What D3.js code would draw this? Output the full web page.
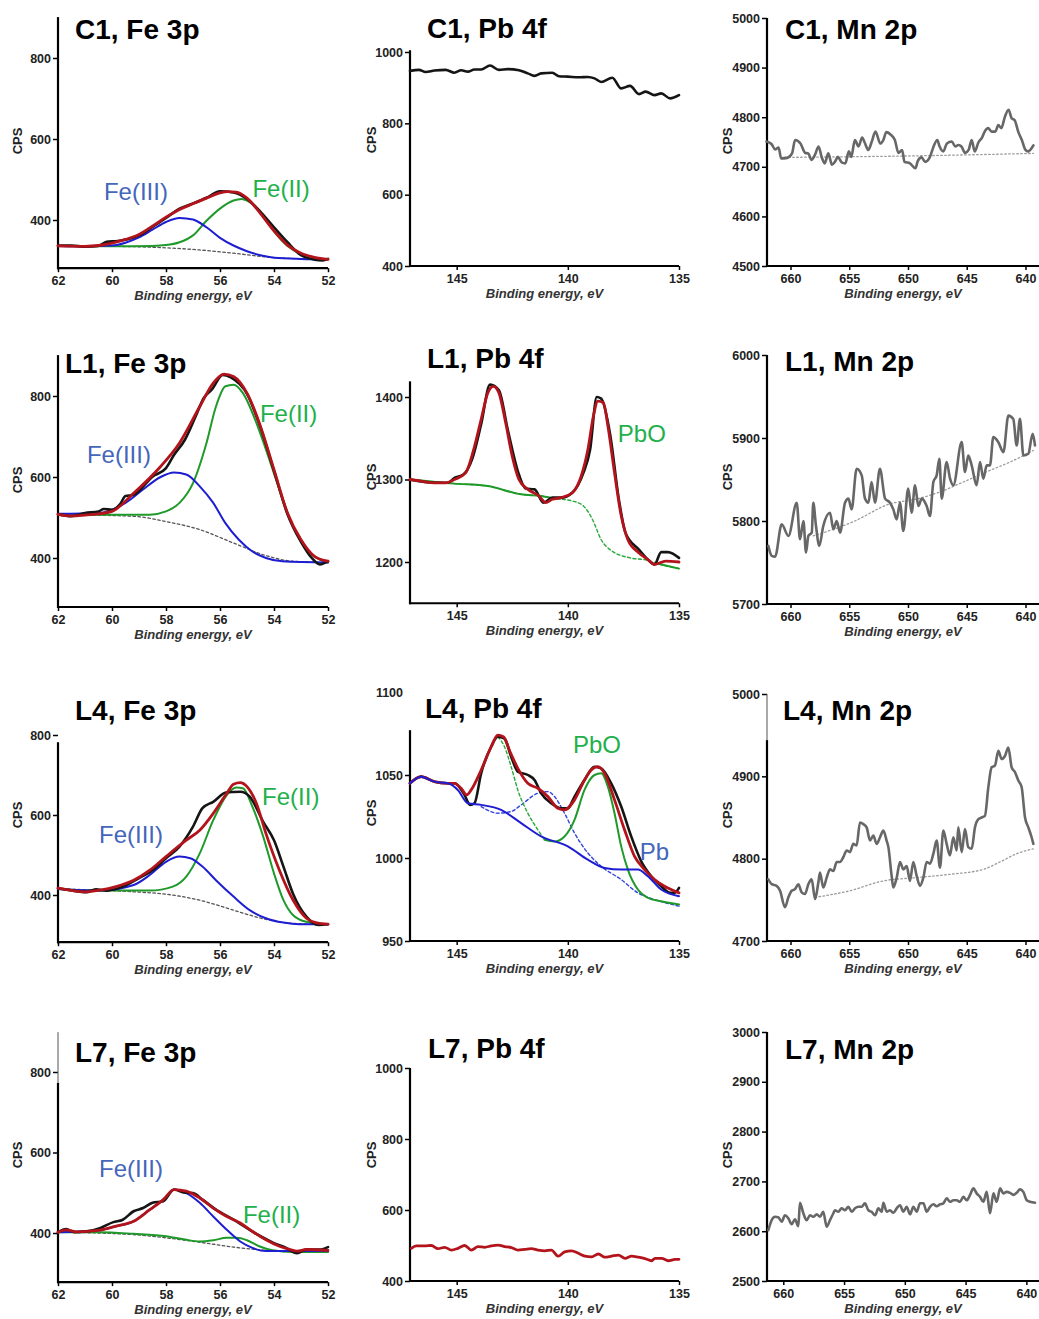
<!DOCTYPE html>
<html>
<head>
<meta charset="utf-8">
<script src="https://cdn.jsdelivr.net/npm/d3@7"></script>
<style>
  body { margin: 0; background: #fff; }
  svg text { font-family: "Liberation Sans", Arial, Helvetica, sans-serif; }
</style>
</head>
<body>
<svg id="chart" width="1039" height="1319"></svg>
<script>
// ---- data: [binding energy (eV), CPS] ----

// C1, Fe 3p
const c1FeBase  = [[62,336],[60,335],[58.6,333],[56.75,326],[55.5,318],[54.3,309],[53,304],[52,303]];
const c1FeBlue  = [[62,336],[61,335],[60,337],[59.5,344],[59,357],[58.5,376],[58,395],[57.5,405],[57,401],[56.5,382],[56,356],[55.5,337],[55,323],[54.5,313],[54,307],[53,304],[52,303]];
const c1FeGreen = [[62,336],[60,335],[58.5,336],[58,338],[57.5,345],[57,362],[56.5,398],[56,428],[55.5,448],[55.2,452],[55,448],[54.5,420],[54,372],[53.5,336],[53,316],[52.5,307],[52,303]];
const c1FeRed   = [[62,336],[61,335],[60.5,337],[60,343],[59.5,352],[59,364],[58.5,385],[58,407],[57.5,426],[57,440],[56.5,454],[56,467],[55.7,470],[55.4,469],[55,454],[54.5,416],[54,373],[53.5,338],[53,318],[52.5,308],[52,303]];
const c1FeBlack = [[62,337],[61.5,337],[61,334],[60.5,336],[60.2,346],[59.8,348],[59.5,351],[59,362],[58.5,383],[58,405],[57.5,428],[57,441],[56.5,455],[56,471],[55.5,468],[55,452],[54.5,420],[54,382],[53.5,345],[53,313],[52.5,302],[52.2,300],[52,304]];

// C1, Pb 4f
const c1Pb = [[147.1,947],[146.7,950],[146.4,944],[146.0,948],[145.5,950],[145.1,942],[144.8,949],[144.5,945],[144.2,951],[143.9,951],[143.5,962],[143.1,950],[142.7,952],[142.2,949],[141.8,940],[141.5,933],[141.2,940],[140.7,942],[140.4,932],[140.0,931],[139.5,929],[139.1,930],[138.8,926],[138.5,916],[138.0,928],[137.6,898],[137.2,905],[136.8,882],[136.5,889],[136.1,879],[135.8,884],[135.4,870],[135.0,879]];

// C1, Mn 2p
const c1Mn = [[662.04,4751],[661.62,4746],[661.31,4735],[661.01,4739],[660.80,4717],[660.28,4718],[659.87,4727],[659.61,4754],[659.15,4747],[658.74,4728],[658.48,4727],[658.22,4714],[657.92,4724],[657.61,4741],[657.35,4720],[657.09,4707],[656.78,4727],[656.47,4704],[656.22,4710],[655.96,4720],[655.65,4709],[655.34,4707],[655.03,4731],[654.83,4720],[654.52,4754],[654.21,4741],[653.90,4759],[653.69,4749],[653.38,4734],[653.08,4751],[652.77,4771],[652.35,4747],[652.10,4754],[651.84,4770],[651.43,4764],[651.12,4754],[650.81,4728],[650.50,4734],[650.30,4710],[649.83,4707],[649.37,4697],[649.16,4712],[648.85,4719],[648.54,4710],[648.13,4720],[647.82,4741],[647.51,4754],[647.31,4741],[647.00,4731],[646.69,4747],[646.28,4751],[645.97,4741],[645.71,4744],[645.45,4741],[645.15,4728],[644.84,4734],[644.58,4754],[644.32,4731],[644.01,4749],[643.70,4759],[643.45,4772],[643.19,4778],[642.88,4771],[642.57,4771],[642.31,4784],[642.06,4778],[641.75,4801],[641.44,4815],[641.18,4798],[640.92,4794],[640.62,4771],[640.31,4754],[640.00,4734],[639.79,4731],[639.33,4743]];
const c1MnBase = [[660.49,4719],[649.57,4722],[639.33,4727]];

// L1, Fe 3p
const l1FeBase  = [[62,507],[59.2,503],[58,490],[56.75,470],[55.5,437],[54.3,406],[53.3,392],[52,389]];
const l1FeBlue  = [[62,509],[60.5,511],[59.5,536],[58.85,569],[58.2,600],[57.7,611],[57.25,606],[56.75,577],[56.25,536],[55.8,486],[55.3,445],[54.8,416],[54.3,400],[53.7,392],[52,389]];
const l1FeGreen = [[62,507],[58.6,507],[58,515],[57.5,536],[57,585],[56.5,684],[56.15,774],[55.8,824],[55.5,828],[55.15,807],[54.65,733],[54.3,668],[53.8,569],[53.3,478],[52.8,421],[52.3,396],[52,389]];
const l1FeRed   = [[62,508],[61.5,504],[61,506],[60.5,509],[60,515],[59.2,560],[58.2,626],[57.5,684],[56.75,774],[56.25,832],[55.85,854],[55.5,848],[55,807],[54.5,725],[54,618],[53.5,511],[53,445],[52.5,404],[52,392]];
const l1FeBlack = [[62,508],[61.5,503],[61,511],[60.5,515],[60.3,521],[60,519],[59.7,533],[59.5,553],[59.2,556],[58.5,601],[58,622],[57.7,655],[57.3,692],[56.9,750],[56.6,795],[56.3,816],[55.9,852],[55.6,846],[55,805],[54.5,722],[54,615],[53.5,508],[53,440],[52.6,400],[52.3,384],[52,392]];

// L1, Pb 4f
const l1PbRed   = [[147.1,1300],[146.6,1298],[146,1296],[145.5,1296],[145.1,1300],[144.6,1308],[144.2,1340],[143.9,1373],[143.6,1405],[143.35,1413],[143.1,1405],[142.8,1369],[142.5,1328],[142.2,1300],[141.8,1288],[141.3,1280],[141.0,1272],[140.7,1276],[140.3,1278],[139.8,1284],[139.4,1304],[139.1,1336],[138.85,1377],[138.65,1395],[138.4,1393],[138.2,1365],[137.9,1308],[137.6,1256],[137.3,1227],[136.8,1211],[136.4,1203],[136.1,1197],[135.6,1201],[135,1200]];
const l1PbBlack = [[147.1,1300],[146,1296],[145.4,1296],[145.1,1302],[144.7,1306],[144.3,1325],[143.9,1367],[143.5,1415],[143.1,1408],[142.7,1360],[142.2,1306],[141.9,1289],[141.5,1288],[141.1,1272],[140.7,1278],[140.3,1278],[139.8,1284],[139.3,1308],[139.0,1336],[138.7,1400],[138.5,1398],[138.1,1355],[137.7,1275],[137.4,1235],[136.8,1215],[136.4,1203],[136.1,1197],[135.8,1212],[135.5,1212],[135,1205]];
const l1PbGreen = [[147.1,1300],[145.1,1295],[143.6,1292],[142.1,1282],[141.2,1280],[140.6,1277],[139.8,1274],[139.3,1268],[138.9,1252],[138.5,1227],[138.0,1213],[137.2,1205],[136.4,1202],[136.1,1199],[135,1192]];

// L1, Mn 2p
const l1Mn = [[661.89,5770],[661.60,5758],[661.31,5757],[660.75,5796],[660.18,5782],[659.47,5822],[659.19,5778],[658.90,5800],[658.68,5762],[658.48,5782],[658.19,5786],[658.06,5822],[657.83,5794],[657.55,5770],[657.21,5794],[656.64,5810],[656.35,5790],[656.07,5800],[655.78,5786],[655.36,5822],[655.07,5827],[654.80,5814],[654.37,5863],[653.94,5855],[653.66,5827],[653.37,5822],[653.10,5847],[652.81,5822],[652.39,5863],[651.95,5827],[651.53,5822],[651.25,5814],[650.96,5802],[650.68,5822],[650.40,5788],[649.98,5839],[649.69,5810],[649.40,5843],[649.12,5818],[648.83,5827],[648.41,5818],[648.13,5806],[647.84,5847],[647.56,5855],[647.33,5875],[647.13,5827],[646.71,5871],[646.42,5851],[646.14,5843],[645.43,5895],[645.15,5859],[644.87,5879],[644.58,5867],[644.16,5843],[643.87,5871],[643.59,5851],[643.30,5867],[643.02,5867],[642.74,5901],[642.31,5895],[641.88,5883],[641.46,5927],[641.04,5923],[640.75,5891],[640.47,5923],[640.18,5879],[639.76,5881],[639.39,5905],[639.19,5891]];
const l1MnBase = [[658.06,5782],[654.52,5800],[651.68,5820],[649.12,5827],[647.28,5835],[645.29,5847],[643.02,5861],[641.32,5871],[639.33,5885]];

// L4, Fe 3p
const l4FeBase  = [[62,415],[59.2,408],[58,402],[56.75,387],[55.5,362],[54.3,339],[53.3,329],[52,327]];
const l4FeBlue  = [[62,415],[60.45,411],[59.2,425],[58.6,450],[58,483],[57.5,496],[57.1,492],[56.65,471],[56.15,437],[55.5,396],[54.9,362],[54.3,342],[53.65,331],[53.05,327],[52,327]];
const l4FeGreen = [[62,415],[60.45,411],[58.6,411],[57.75,421],[57.25,446],[56.75,504],[56.25,587],[55.75,650],[55.4,669],[55.15,667],[54.8,621],[54.4,546],[54,454],[53.65,387],[53.3,350],[52.8,333],[52,327]];
const l4FeRed   = [[62,417],[61.45,411],[60.95,408],[60.45,412],[59.85,421],[59.2,437],[58.6,462],[58,496],[57.25,537],[56.75,562],[56.25,604],[55.75,654],[55.5,677],[55.25,681],[55,671],[54.65,629],[54.3,554],[53.8,462],[53.3,388],[52.8,342],[52.45,331],[52,327]];
const l4FeBlack = [[62,417],[61.45,411],[60.95,407],[60.6,414],[60.2,411],[59.6,421],[59,442],[58.5,462],[58,492],[57.5,521],[57,571],[56.65,617],[56.25,633],[55.75,657],[55.25,658],[54.9,646],[54.4,583],[54,537],[53.65,471],[53.3,404],[52.8,346],[52.35,325],[52,327]];

// L4, Pb 4f
const l4PbRed   = [[147.1,1045],[146.6,1049],[146,1046],[145.4,1045],[145.1,1045],[144.8,1042],[144.55,1038],[144.35,1041],[143.9,1053],[143.45,1067],[143.15,1074],[142.9,1073],[142.6,1064],[142.25,1054],[141.8,1045],[141.35,1042],[140.9,1037],[140.45,1030],[140.15,1029],[139.7,1035],[139.25,1047],[138.95,1053],[138.65,1055],[138.35,1051],[137.9,1035],[137.45,1017],[137,1001],[136.55,993],[136.1,987],[135.65,983],[135.35,981],[135,979]];
const l4PbBlack = [[147.1,1045],[146.6,1049],[146,1046],[145.4,1045],[145.1,1045],[144.65,1038],[144.4,1032],[144.2,1033],[143.9,1051],[143.45,1067],[143.15,1073],[142.85,1072],[142.55,1061],[142.25,1052],[141.8,1050],[141.5,1047],[141.2,1039],[140.75,1033],[140.3,1030],[140,1030],[139.7,1037],[139.25,1047],[138.8,1055],[138.5,1054],[138.05,1045],[137.6,1031],[137.15,1013],[136.7,998],[136.25,989],[135.8,983],[135.4,979],[135.2,979],[135,982]];
const l4PbBlue  = [[147.1,1045],[146.6,1049],[146,1046],[145.4,1045],[144.95,1041],[144.5,1033],[143.9,1032],[143,1029],[142.1,1021],[141.2,1013],[140,1007],[139.1,999],[138.35,994],[137.6,993],[136.85,993],[136.4,989],[135.8,981],[135,977]];
const l4PbBlueDash  = [[143.9,1031],[143.15,1027],[142.55,1028],[142.1,1032],[141.35,1039],[140.9,1040],[140.6,1037],[140.15,1027],[139.7,1015],[139.1,1003],[138.5,995],[137.6,987],[136.85,979],[136.1,975],[135,971]];
const l4PbGreenDash = [[143.15,1073],[142.85,1067],[142.55,1055],[142.25,1041],[141.8,1027],[141.35,1017],[141.05,1011]];
const l4PbGreen = [[141.05,1011],[140.6,1010],[140.15,1013],[139.7,1023],[139.25,1041],[138.8,1050],[138.5,1051],[138.2,1043],[137.9,1027],[137.6,1007],[137.3,993],[136.85,981],[136.4,976],[135.8,974],[135,972]];

// L4, Mn 2p
const l4Mn = [[661.89,4775],[661.60,4769],[661.18,4767],[660.89,4761],[660.47,4741],[660.18,4753],[659.90,4761],[659.62,4763],[659.33,4769],[659.05,4759],[658.77,4757],[658.48,4769],[658.20,4775],[657.91,4751],[657.63,4771],[657.49,4783],[657.21,4765],[656.92,4777],[656.64,4787],[656.35,4785],[656.07,4796],[655.79,4796],[655.50,4802],[655.22,4810],[654.94,4808],[654.65,4818],[654.37,4816],[654.09,4844],[653.80,4842],[653.52,4838],[653.23,4822],[652.95,4828],[652.67,4818],[652.38,4826],[652.10,4834],[651.82,4822],[651.67,4814],[651.39,4779],[651.25,4765],[650.96,4777],[650.68,4796],[650.40,4787],[650.11,4791],[649.83,4773],[649.55,4796],[649.26,4779],[648.98,4767],[648.69,4777],[648.41,4796],[648.13,4794],[647.84,4806],[647.56,4822],[647.28,4789],[646.99,4834],[646.71,4818],[646.43,4804],[646.14,4826],[645.86,4810],[645.72,4838],[645.43,4808],[645.15,4836],[644.87,4814],[644.58,4812],[644.30,4838],[644.01,4848],[643.73,4850],[643.45,4852],[643.16,4887],[642.88,4911],[642.60,4913],[642.31,4931],[642.03,4921],[641.74,4925],[641.46,4935],[641.18,4911],[640.89,4905],[640.61,4895],[640.33,4887],[640.04,4850],[639.76,4838],[639.48,4826],[639.33,4818]];
const l4MnBase = [[657.91,4753],[654.94,4761],[652.10,4773],[649.26,4777],[646.43,4781],[643.59,4787],[642.17,4796],[640.75,4806],[639.33,4812]];

// L7, Fe 3p
const l7FeBase  = [[62,402],[59.2,396],[58,388],[56.75,377],[55.5,365],[54.3,357],[53.05,353],[52,353]];
const l7FeBlue  = [[62,402],[60.45,407],[59.85,417],[59.2,429],[58.6,458],[58.1,483],[57.7,508],[57.25,499],[56.75,475],[56.25,441],[55.75,408],[55.25,379],[54.8,363],[54.3,355],[53.65,355],[52,355]];
const l7FeGreen = [[62,402],[60.45,402],[59.2,398],[58,392],[57.25,383],[56.75,379],[56.25,382],[55.75,388],[55.4,388],[55,382],[54.55,367],[54.05,357],[53.3,353],[52,353]];
const l7FeRed   = [[62,402],[61.7,408],[61.3,403],[60.45,407],[59.85,417],[59.2,429],[58.6,458],[58.1,483],[57.7,508],[57.25,504],[56.75,487],[56.25,462],[55.75,441],[55.25,425],[54.8,404],[54.3,383],[53.8,367],[53.4,359],[53.15,355],[52.8,359],[52,357]];
const l7FeBlack = [[62,402],[61.7,410],[61.4,402],[60.95,404],[60.45,412],[59.95,427],[59.6,433],[59.2,454],[58.85,462],[58.5,475],[58.1,479],[57.7,508],[57.35,501],[57,499],[56.65,483],[56.15,458],[55.5,433],[55,412],[54.5,392],[54,375],[53.55,363],[53.15,350],[52.8,359],[52.3,359],[52,365]];

// L7, Pb 4f
const l7Pb = [[147.04,492],[146.82,499],[146.44,499],[146.14,500],[145.84,491],[145.54,495],[145.24,487],[144.94,492],[144.64,500],[144.34,487],[144.04,497],[143.74,495],[143.44,499],[143.14,501],[142.84,497],[142.54,494],[142.24,487],[141.94,489],[141.64,491],[141.34,487],[141.04,485],[140.74,487],[140.44,470],[140.14,482],[139.83,485],[139.53,478],[139.23,470],[138.93,468],[138.63,476],[138.33,467],[138.03,470],[137.73,473],[137.43,464],[137.13,470],[136.83,467],[136.53,463],[136.23,457],[136.08,464],[135.78,464],[135.48,457],[135.18,461],[135.0,461]];

// L7, Mn 2p
const l7Mn = [[661.23,2602],[660.96,2622],[660.68,2629],[660.41,2628],[660.13,2619],[659.86,2632],[659.59,2626],[659.31,2614],[659.04,2624],[658.76,2610],[658.63,2657],[658.35,2636],[658.08,2622],[657.80,2632],[657.53,2629],[657.25,2634],[656.98,2629],[656.71,2639],[656.43,2609],[656.16,2622],[655.88,2636],[655.75,2642],[655.47,2639],[655.20,2646],[654.92,2642],[654.65,2649],[654.37,2639],[654.10,2646],[653.82,2649],[653.55,2649],[653.28,2656],[653.00,2642],[652.73,2639],[652.45,2632],[652.18,2646],[651.90,2639],[651.77,2657],[651.49,2639],[651.22,2642],[650.94,2637],[650.67,2646],[650.40,2652],[650.12,2639],[649.85,2649],[649.57,2634],[649.30,2649],[649.02,2639],[648.75,2656],[648.47,2656],[648.20,2639],[647.93,2649],[647.65,2654],[647.38,2650],[647.10,2654],[646.83,2656],[646.55,2666],[646.28,2659],[646.01,2662],[645.73,2662],[645.46,2659],[645.18,2669],[644.91,2662],[644.63,2673],[644.36,2686],[644.09,2676],[643.81,2669],[643.54,2659],[643.26,2679],[642.99,2636],[642.71,2676],[642.44,2659],[642.16,2686],[641.89,2676],[641.62,2679],[641.34,2677],[641.07,2673],[640.80,2677],[640.52,2684],[640.25,2679],[639.97,2662],[639.70,2659],[639.29,2657]];

// tick values
const feTicks = [62, 60, 58, 56, 54, 52];
const pbTicks = [145, 140, 135];
const mnTicks = [660, 655, 650, 645, 640];

// ---- drawing ----
const svg = d3.select("#chart");
const FONT = "'Liberation Sans', Arial, Helvetica, sans-serif";

const styles = {
  black:     { stroke: "#151515", width: 2.6 },
  red:       { stroke: "#b3141c", width: 2.8 },
  blue:      { stroke: "#1d1dd2", width: 2 },
  green:     { stroke: "#1f9a2a", width: 2 },
  blueDash:  { stroke: "#3344dd", width: 1.4, dash: "3,2.5" },
  greenDash: { stroke: "#2aa83a", width: 1.4, dash: "3,2.5" },
  base:      { stroke: "#555", width: 1.3, dash: "2.5,2.5" },
  mn:        { stroke: "#676767", width: 2.6 },
  mnBase:    { stroke: "#9a9a9a", width: 1.3, dash: "1.5,2.5" }
};
const labelBlue = "#4466bb", labelGreen = "#22b04b";

const feX = { range: [58, 328], domain: [62, 52], ticks: feTicks };
const pbX = { range: [410, 679], domain: [147.1, 135], ticks: pbTicks };
const mnX = { range: [767, 1039], domain: [662.0, 638.85], ticks: mnTicks };
const mnX2 = { range: [767, 1039], domain: [661.34, 638.96], ticks: mnTicks };

const panels = [
  { title: "C1, Fe 3p", tx: 75, ty: 39, x: feX, yRef: [400, 800], yPx: [220, 58], yLine: [281, 901], yTicks: [400, 600, 800], cps: [17, 141],
    series: [[c1FeBase, "base"], [c1FeGreen, "green"], [c1FeBlue, "blue"], [c1FeBlack, "black"], [c1FeRed, "red"]],
    labels: [["Fe(III)", 60.3, 449, labelBlue], ["Fe(II)", 54.8, 457, labelGreen]] },
  { title: "C1, Pb 4f", tx: 427, ty: 38, x: pbX, yRef: [400, 1000], yPx: [266, 52], yLine: [400, 1005], yTicks: [400, 600, 800, 1000], cps: [371, 140],
    series: [[c1Pb, "black"]], labels: [] },
  { title: "C1, Mn 2p", tx: 785, ty: 39, x: mnX, yRef: [4500, 5000], yPx: [266, 18], yLine: [4500, 5000], yTicks: [4500, 4600, 4700, 4800, 4900, 5000], cps: [727, 141],
    series: [[c1MnBase, "mnBase"], [c1Mn, "mn"]], labels: [] },

  { title: "L1, Fe 3p", tx: 65, ty: 373, x: feX, yRef: [400, 800], yPx: [558, 396], yLine: [279, 901], yTicks: [400, 600, 800], cps: [17, 480],
    series: [[l1FeBase, "base"], [l1FeGreen, "green"], [l1FeBlue, "blue"], [l1FeBlack, "black"], [l1FeRed, "red"]],
    labels: [["Fe(III)", 60.93, 634, labelBlue], ["Fe(II)", 54.52, 736, labelGreen]] },
  { title: "L1, Pb 4f", tx: 427, ty: 368, x: pbX, yRef: [1200, 1400], yPx: [562, 397], yLine: [1150, 1419], yTicks: [1200, 1300, 1400], cps: [371, 477],
    series: [[l1PbGreen, "greenDash"], [l1PbGreen.filter(d => d[0] >= 140.6), "green"], [l1PbGreen.filter(d => d[0] <= 136.1), "green"],
             [l1PbBlack, "black"], [l1PbRed, "red"]],
    labels: [["PbO", 137.75, 1346, labelGreen]] },
  { title: "L1, Mn 2p", tx: 785, ty: 371, x: mnX, yRef: [5700, 6000], yPx: [604, 355], yLine: [5700, 6000], yTicks: [5700, 5800, 5900, 6000], cps: [727, 477],
    series: [[l1MnBase, "mnBase"], [l1Mn, "mn"]], labels: [] },

  { title: "L4, Fe 3p", tx: 75, ty: 720, x: feX, yRef: [400, 800], yPx: [895, 735], yLine: [282, 782], yTicks: [400, 600, 800], cps: [17, 815],
    series: [[l4FeBase, "base"], [l4FeGreen, "green"], [l4FeBlue, "blue"], [l4FeBlack, "black"], [l4FeRed, "red"]],
    labels: [["Fe(III)", 60.48, 530, labelBlue], ["Fe(II)", 54.44, 625, labelGreen]] },
  { title: "L4, Pb 4f", tx: 425, ty: 718, x: pbX, yRef: [950, 1100], yPx: [941, 692], yLine: [950, 1077], yTicks: [950, 1000, 1050, 1100], noMark: [1100], cps: [371, 813],
    series: [[l4PbBlueDash, "blueDash"], [l4PbGreenDash, "greenDash"], [l4PbGreen, "green"], [l4PbBlack, "black"], [l4PbRed, "red"], [l4PbBlue, "blue"]],
    labels: [["PbO", 139.77, 1063, labelGreen], ["Pb", 136.76, 999, labelBlue]] },
  { title: "L4, Mn 2p", tx: 783, ty: 720, x: mnX, yRef: [4700, 5000], yPx: [941, 694], yLine: [4700, 4944], yThin: [4944, 5000], yTicks: [4700, 4800, 4900, 5000], cps: [727, 815],
    series: [[l4MnBase, "mnBase"], [l4Mn, "mn"]], labels: [] },

  { title: "L7, Fe 3p", tx: 75, ty: 1062, x: feX, yRef: [400, 800], yPx: [1233, 1072], yLine: [278, 773], yThin: [773, 899], yTicks: [400, 600, 800], cps: [17, 1155],
    series: [[l7FeBase, "base"], [l7FeGreen, "green"], [l7FeBlue, "blue"], [l7FeBlack, "black"], [l7FeRed, "red"]],
    labels: [["Fe(III)", 60.48, 539, labelBlue], ["Fe(II)", 55.15, 425, labelGreen]] },
  { title: "L7, Pb 4f", tx: 428, ty: 1058, x: pbX, yRef: [400, 1000], yPx: [1281, 1068], yLine: [400, 1000], yTicks: [400, 600, 800, 1000], cps: [371, 1155],
    series: [[l7Pb, "red"]], labels: [] },
  { title: "L7, Mn 2p", tx: 785, ty: 1059, x: mnX2, yRef: [2500, 3000], yPx: [1281, 1032], yLine: [2500, 3000], yTicks: [2500, 2600, 2700, 2800, 2900, 3000], cps: [727, 1155],
    series: [[l7Mn, "mn"]], labels: [] }
];

function drawPanel(p) {
  const g = svg.append("g");
  const x = d3.scaleLinear().domain(p.x.domain).range(p.x.range);
  const y = d3.scaleLinear().domain(p.yRef).range(p.yPx);
  const yBottom = y(p.yLine[0]);

  // y axis ticks + labels
  const ya = g.append("g")
    .attr("transform", `translate(${p.x.range[0]},0)`)
    .call(d3.axisLeft(y).tickValues(p.yTicks).tickSize(5).tickPadding(2).tickSizeOuter(0).tickFormat(d3.format("d")));
  ya.select(".domain").remove();
  ya.selectAll(".tick line").attr("stroke", "#000").attr("stroke-width", 1.5)
    .filter(d => (p.noMark || []).includes(d)).remove();
  ya.selectAll(".tick text").attr("fill", "#222").attr("font-size", 12.5).attr("font-weight", "bold").attr("font-family", FONT);

  // x axis ticks + labels
  const xa = g.append("g")
    .attr("transform", `translate(0,${yBottom})`)
    .call(d3.axisBottom(x).tickValues(p.x.ticks).tickSize(4).tickPadding(4).tickSizeOuter(0).tickFormat(d3.format("d")));
  xa.select(".domain").remove();
  xa.selectAll(".tick line").attr("stroke", "#000").attr("stroke-width", 1.5);
  xa.selectAll(".tick text").attr("fill", "#222").attr("font-size", 12.5).attr("font-weight", "bold").attr("font-family", FONT);

  // axis lines
  g.append("line")
    .attr("x1", p.x.range[0]).attr("x2", p.x.range[0])
    .attr("y1", y(p.yLine[0]) + 1).attr("y2", y(p.yLine[1]))
    .attr("stroke", "#000").attr("stroke-width", 2.2);
  if (p.yThin) {
    g.append("line")
      .attr("x1", p.x.range[0]).attr("x2", p.x.range[0])
      .attr("y1", y(p.yThin[0])).attr("y2", y(p.yThin[1]))
      .attr("stroke", "#555").attr("stroke-width", 1);
  }
  g.append("line")
    .attr("x1", p.x.range[0] - 1).attr("x2", p.x.range[1])
    .attr("y1", yBottom).attr("y2", yBottom)
    .attr("stroke", "#000").attr("stroke-width", 2.2);

  // data lines
  const line = d3.line().x(d => x(d[0])).y(d => y(d[1])).curve(d3.curveMonotoneX);
  p.series.forEach(([data, key]) => {
    const s = styles[key];
    g.append("path")
      .attr("d", line(data))
      .attr("fill", "none")
      .attr("stroke", s.stroke)
      .attr("stroke-width", s.width)
      .attr("stroke-linejoin", "round")
      .attr("stroke-linecap", "round")
      .attr("stroke-dasharray", s.dash || null);
  });

  // peak labels
  p.labels.forEach(([text, e, v, color]) => {
    g.append("text")
      .attr("x", x(e)).attr("y", y(v))
      .attr("font-size", 24).attr("fill", color)
      .text(text);
  });

  // title
  g.append("text")
    .attr("x", p.tx).attr("y", p.ty)
    .attr("font-size", 28).attr("font-weight", "bold").attr("fill", "#000")
    .text(p.title);

  // axis titles
  g.append("text")
    .attr("x", (p.x.range[0] + p.x.range[1]) / 2).attr("y", yBottom + 32)
    .attr("text-anchor", "middle")
    .attr("font-size", 13).attr("font-weight", "bold").attr("font-style", "italic").attr("fill", "#333")
    .text("Binding energy, eV");
  g.append("text")
    .attr("transform", `translate(${p.cps[0]},${p.cps[1]}) rotate(-90)`)
    .attr("text-anchor", "middle").attr("dy", "0.35em")
    .attr("font-size", 13).attr("font-weight", "bold").attr("fill", "#222")
    .text("CPS");
}

panels.forEach(drawPanel);
</script>
</body>
</html>
